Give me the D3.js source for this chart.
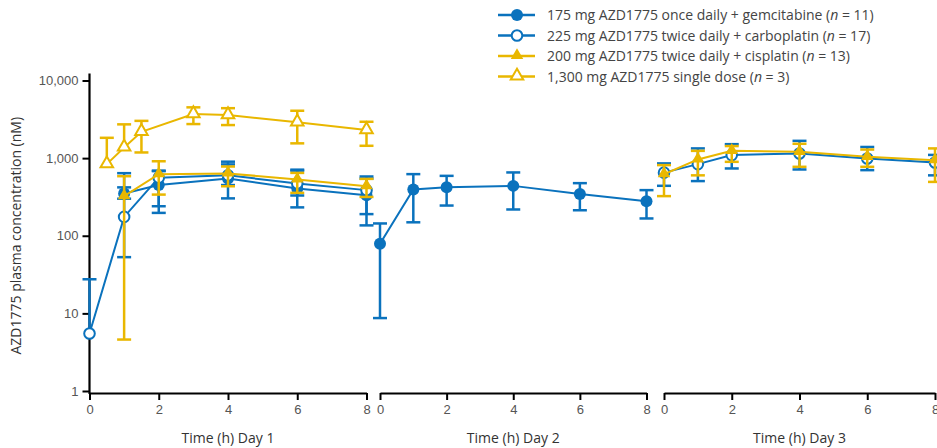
<!DOCTYPE html>
<html>
<head>
<meta charset="utf-8">
<script src="https://cdn.jsdelivr.net/npm/d3@7"></script>
<style>
  body { margin: 0; background: #fff; }
  svg { display: block; font-family: "Open Sans", sans-serif; }
  .tick text { fill: #555; font-size: 13px; }
  .axis-title { fill: #333; font-size: 14px; }
  .legend text { fill: #444; font-size: 14px; }
</style>
</head>
<body>
<svg id="chart" width="937" height="448"></svg>
<script>
// rows: [day, time (h), value (nM), lower, upper]  (null = no bar end shown)
const gemcitabine175 = [
  [1, 1, 350, 300, 420], [1, 2, 450, 240, 680], [1, 4, 547, 303, 900],
  [1, 6, 406, 232, 710], [1, 8, 333, 136, 580],
  [2, 0, 79, 8.7, 144], [2, 1, 394, 149, 622], [2, 2, 422, 245, 591],
  [2, 4, 439, 218, 654], [2, 6, 346, 213, 476], [2, 8, 279, 167, 387]
];
const carboplatin225 = [
  [1, 0, 5.5, null, 27.5], [1, 1, 175, 53, 640], [1, 2, 560, 197, 690],
  [1, 4, 600, 450, 830], [1, 6, 472, 330, 690], [1, 8, 387, 190, 545],
  [3, 0, 650, 440, 855], [3, 1, 837, 506, 1334], [3, 2, 1094, 736, 1513],
  [3, 4, 1148, 714, 1670], [3, 6, 991, 700, 1392], [3, 8, 880, 600, 1100]
];
const cisplatin200 = [
  [1, 1, 324, 4.6, 585], [1, 2, 622, 339, 911], [1, 4, 635, 434, 780],
  [1, 6, 531, 357, 645], [1, 8, 435, 316, 540],
  [3, 0, 620, 324, 813], [3, 1, 962, 600, 1240], [3, 2, 1241, 896, 1430],
  [3, 4, 1205, 773, 1530], [3, 6, 1040, 773, 1290], [3, 8, 942, 494, 1334]
];
const singleDose1300 = [
  [1, 0.5, 837, null, 1827], [1, 1, 1374, null, 2723], [1, 1.5, 2186, 1183, 3020],
  [1, 3, 3698, 2747, 4510], [1, 4, 3589, 2666, 4400], [1, 6, 2890, 1550, 4077],
  [1, 8, 2296, 1442, 2940]
];

const dayLabels = ['Time (h) Day 1', 'Time (h) Day 2', 'Time (h) Day 3'];
const xTicks = [0, 2, 4, 6, 8];
const yTicks = [1, 10, 100, 1000, 10000];
const yTitle = 'AZD1775 plasma concentration (nM)';

const BLUE = '#0a72bd';
const GOLD = '#e9b700';

const series = [
  { name: '175 mg AZD1775 once daily + gemcitabine', n: 11, data: gemcitabine175, color: BLUE, shape: 'circle', filled: true },
  { name: '225 mg AZD1775 twice daily + carboplatin', n: 17, data: carboplatin225, color: BLUE, shape: 'circle', filled: false },
  { name: '200 mg AZD1775 twice daily + cisplatin', n: 13, data: cisplatin200, color: GOLD, shape: 'triangle', filled: true },
  { name: '1,300 mg AZD1775 single dose', n: 3, data: singleDose1300, color: GOLD, shape: 'triangle', filled: false }
];

const svg = d3.select('#chart');
const y = d3.scaleLog().domain([1, 10000]).range([391, 80.5]);
const axisY = y(1) + 2;
const xs = [
  d3.scaleLinear().domain([0, 8]).range([89.5, 366.5]),
  d3.scaleLinear().domain([0, 8]).range([380, 646.5]),
  d3.scaleLinear().domain([0, 8]).range([664, 935])
];

// y axis
const yAxis = svg.append('g')
  .attr('transform', `translate(${xs[0](0)},0)`)
  .call(d3.axisLeft(y).tickValues(yTicks).tickFormat(d3.format(',')).tickSize(7).tickPadding(4));
yAxis.select('.domain').remove();
yAxis.selectAll('.tick line').attr('stroke', '#000').attr('stroke-width', 2);
yAxis.append('line')
  .attr('x1', 0).attr('x2', 0)
  .attr('y1', y(10000) - 7).attr('y2', axisY + 1)
  .attr('stroke', '#000').attr('stroke-width', 2.2);

svg.append('text')
  .attr('class', 'axis-title')
  .attr('transform', `translate(21,${(y(1) + y(10000)) / 2}) rotate(-90)`)
  .attr('text-anchor', 'middle')
  .text(yTitle);

// x axes, one per day
xs.forEach((x, i) => {
  const g = svg.append('g')
    .attr('transform', `translate(0,${axisY})`)
    .call(d3.axisBottom(x).tickValues(xTicks).tickSize(7).tickSizeOuter(0).tickPadding(5));
  g.select('.domain').attr('stroke', '#000').attr('stroke-width', 2.2);
  g.selectAll('.tick line').attr('stroke', '#000').attr('stroke-width', 2);
  svg.append('text')
    .attr('class', 'axis-title')
    .attr('x', (x(0) + x(8)) / 2)
    .attr('y', 443)
    .attr('text-anchor', 'middle')
    .text(dayLabels[i]);
});

const tri = d3.symbol().type(d3.symbolTriangle).size(68);

function drawMarker(sel, s) {
  if (s.shape === 'circle') {
    sel.append('circle').attr('r', s.filled ? 6 : 5.3);
  } else {
    sel.append('path').attr('d', tri).attr('transform', 'translate(0,-0.5)');
  }
  sel.selectAll('circle, path')
    .attr('fill', s.filled ? s.color : '#fff')
    .attr('stroke', s.color)
    .attr('stroke-width', s.filled ? 0 : 2);
}

series.forEach(s => {
  const g = svg.append('g');
  const days = d3.group(s.data, d => d[0]);
  days.forEach((rows, day) => {
    const x = xs[day - 1];
    // error bars
    rows.forEach(d => {
      const lo = d[3] == null ? d[2] : d[3];
      const hi = d[4] == null ? d[2] : d[4];
      const eb = g.append('g').attr('stroke', s.color).attr('stroke-width', 2.5).attr('fill', 'none');
      eb.append('line').attr('x1', x(d[1])).attr('x2', x(d[1])).attr('y1', y(lo)).attr('y2', y(hi));
      if (d[3] != null) eb.append('line').attr('x1', x(d[1]) - 7).attr('x2', x(d[1]) + 7).attr('y1', y(lo)).attr('y2', y(lo));
      if (d[4] != null) eb.append('line').attr('x1', x(d[1]) - 7).attr('x2', x(d[1]) + 7).attr('y1', y(hi)).attr('y2', y(hi));
    });
    g.append('path')
      .datum(rows)
      .attr('fill', 'none')
      .attr('stroke', s.color)
      .attr('stroke-width', 2)
      .attr('d', d3.line().x(d => x(d[1])).y(d => y(d[2])));
    rows.forEach(d => {
      drawMarker(g.append('g').attr('transform', `translate(${x(d[1])},${y(d[2])})`), s);
    });
  });
});

// legend
const legend = svg.append('g').attr('class', 'legend');
series.forEach((s, i) => {
  const row = legend.append('g').attr('transform', `translate(498,${15 + i * 20.5})`);
  row.append('line').attr('x1', 0).attr('x2', 37).attr('stroke', s.color).attr('stroke-width', 2.5);
  drawMarker(row.append('g').attr('transform', 'translate(19,0)'), s);
  const t = row.append('text').attr('x', 49).attr('y', 5);
  t.append('tspan').text(`${s.name} (`);
  t.append('tspan').attr('font-style', 'italic').text('n');
  t.append('tspan').text(` = ${s.n})`);
});
</script>
</body>
</html>
